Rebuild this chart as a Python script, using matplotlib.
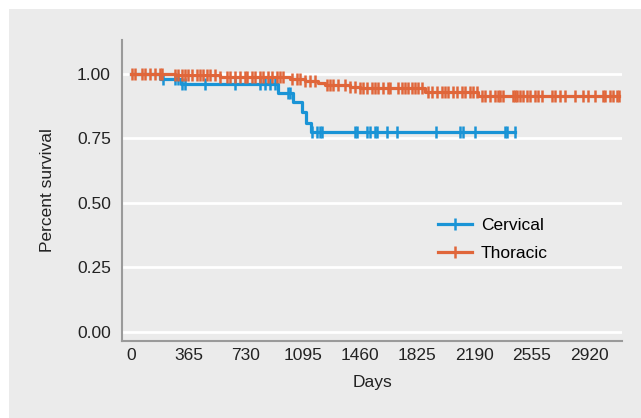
import numpy as np
import matplotlib
matplotlib.use("Agg")
import matplotlib.pyplot as plt
from matplotlib.lines import Line2D
from matplotlib.patches import Rectangle

plt.rcParams['font.family'] = ['Liberation Sans', 'DejaVu Sans']

# Kaplan-Meier steps (days, survival)
cerv_t = [0, 185, 318, 936, 1032, 1089, 1115, 1147, 2446]
cerv_s = [1.0, 0.98, 0.96, 0.926, 0.89, 0.85, 0.81, 0.775, 0.775]
cerv_cens = [204, 280, 299, 325, 344, 471, 662, 822, 854, 885, 917, 1000, 1013,
             1153, 1185, 1204, 1217, 1427, 1440, 1503, 1522, 1554, 1567, 1631,
             1695, 1943, 2096, 2115, 2191, 2382, 2395, 2446]

thor_t = [0, 280, 567, 1013, 1108, 1191, 1236, 1395, 1459, 1873, 2210, 3109]
thor_s = [1.0, 0.995, 0.987, 0.978, 0.970, 0.962, 0.955, 0.949, 0.943, 0.929,
          0.915, 0.915]
thor_cens = [5, 25, 70, 89, 121, 153, 185, 197, 280, 299, 325, 344, 363, 389, 420,
             440, 459, 484, 503, 535, 567, 612, 631, 662, 694, 726, 739, 771, 790,
             822, 841, 873, 898, 930, 949, 968, 1026, 1057, 1077, 1108, 1140, 1172,
             1249, 1268, 1287, 1319, 1363, 1395, 1427, 1459, 1478, 1503, 1535, 1554,
             1573, 1605, 1637, 1650, 1701, 1726, 1745, 1764, 1790, 1809, 1828, 1854,
             1892, 1917, 1949, 1981, 2000, 2019, 2051, 2077, 2108, 2128, 2159, 2179,
             2204, 2236, 2255, 2287, 2319, 2338, 2351, 2370, 2433, 2446, 2459, 2478,
             2497, 2523, 2542, 2573, 2593, 2618, 2682, 2701, 2733, 2765, 2828, 2879,
             2911, 2956, 3007, 3019, 3051, 3070, 3096, 3109]

xticks = [0, 365, 730, 1095, 1460, 1825, 2190, 2555, 2920]
yticks = [0.0, 0.25, 0.5, 0.75, 1.0]

blue = '#1a94d6'
orange = '#e0663a'
bg = '#ebebeb'


def surv_at(t, s, x):
    idx = np.searchsorted(t, x, side='right') - 1
    return np.asarray(s)[idx]


fig = plt.figure(figsize=(6.41, 4.18), dpi=100)
fig.patch.set_facecolor('white')
fig.patches.append(Rectangle((9 / 641, 0), 1, 1 - 9 / 418, transform=fig.transFigure,
                             facecolor=bg, edgecolor='none', zorder=-10))

ax = fig.add_axes([122 / 641, 77 / 418, 500 / 641, 301 / 418])
ax.set_facecolor('none')

for t, s, c, col in [(cerv_t, cerv_s, cerv_cens, blue), (thor_t, thor_s, thor_cens, orange)]:
    ax.step(t, s, where='post', color=col, lw=2.3, zorder=3)
    ax.plot(c, surv_at(t, s, c), ls='none', marker='|', ms=8, mew=1.8,
            color=col, zorder=3)

ax.set_xlim(-60, 3130)
ax.set_ylim(-0.035, 1.13)
ax.set_xticks(xticks)
ax.set_xticklabels([str(v) for v in xticks])
ax.set_yticks(yticks)
ax.set_yticklabels(['%.2f' % v for v in yticks])
ax.tick_params(length=0, labelsize=12.5, colors='#222222')
ax.tick_params(axis='y', pad=8)
ax.tick_params(axis='x', pad=5)

ax.grid(axis='y', color='white', lw=2)
ax.set_axisbelow(True)
for side in ['top', 'right']:
    ax.spines[side].set_visible(False)
for side in ['left', 'bottom']:
    ax.spines[side].set_color('#9a9a9a')
    ax.spines[side].set_linewidth(1.5)

ax.set_xlabel('Days', fontsize=12.5, color='#222222', labelpad=9)
ax.set_ylabel('Percent survival', fontsize=12.5, color='#222222', labelpad=16)

handles = [Line2D([], [], color=blue, lw=2.3, marker='|', ms=8, mew=1.8),
           Line2D([], [], color=orange, lw=2.3, marker='|', ms=8, mew=1.8)]
ax.legend(handles, ['Cervical', 'Thoracic'], loc='upper left',
          bbox_to_anchor=(0.6, 0.46), frameon=False, fontsize=12.5,
          handlelength=2.0, handletextpad=0.5, labelspacing=0.75, numpoints=1)

fig.savefig('out.png', dpi=100, facecolor=fig.get_facecolor())
